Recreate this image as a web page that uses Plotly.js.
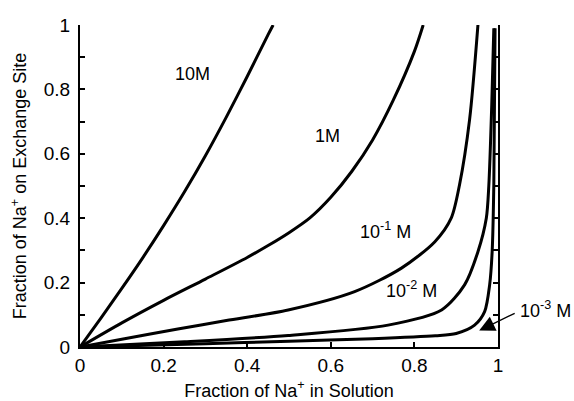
<!DOCTYPE html>
<html>
<head>
<meta charset="utf-8">
<script src="https://cdn.plot.ly/plotly-3.0.1.min.js"></script>
<style>html,body{margin:0;padding:0;background:#fff;}#chart{width:574px;height:401px;}</style>
</head>
<body>
<div id="chart"></div>
<script>
// Curve readings (x = fraction of Na+ in solution, y = fraction on exchange site)
const x10M  = [0, 0.05, 0.1, 0.15, 0.2, 0.25, 0.3, 0.35, 0.4, 0.45, 0.462];
const y10M  = [0, 0.09, 0.182, 0.277, 0.377, 0.482, 0.594, 0.714, 0.84, 0.97, 1.0];

const x1M   = [0, 0.1, 0.2, 0.3, 0.4, 0.45, 0.5, 0.55, 0.6, 0.65, 0.7, 0.75, 0.8, 0.821];
const y1M   = [0, 0.075, 0.145, 0.211, 0.278, 0.315, 0.355, 0.401, 0.465, 0.545, 0.643, 0.768, 0.918, 1.0];

const xE1   = [0, 0.1, 0.234, 0.35, 0.498, 0.657, 0.769, 0.849, 0.888, 0.908, 0.932, 0.952];
const yE1   = [0, 0.024, 0.056, 0.082, 0.115, 0.172, 0.245, 0.327, 0.4, 0.504, 0.706, 1.0];

const xE2   = [0, 0.25, 0.498, 0.737, 0.865, 0.92, 0.952, 0.972, 0.978, 0.985, 0.99];
const yE2   = [0, 0.016, 0.036, 0.068, 0.115, 0.193, 0.296, 0.4, 0.5, 0.75, 0.99];

const xE3   = [0, 0.3, 0.5, 0.7, 0.85, 0.9, 0.944, 0.968, 0.98, 0.986, 0.99, 0.993];
const yE3   = [0, 0.01, 0.018, 0.026, 0.035, 0.042, 0.068, 0.11, 0.193, 0.296, 0.504, 0.99];

const labelText = ["10M", "1M", "10<sup>-1</sup> M", "10<sup>-2</sup> M"];
const labelX    = [0.27, 0.593, 0.731, 0.792];
const labelY    = [0.849, 0.656, 0.361, 0.18];

// label beyond the right edge of the plot (paper coordinates), with an arrow to the 10^-3 M curve
const outerLabel = "10<sup>-3</sup> M";
const outerX = 1.114, outerY = 0.115;
const arrowX = 0.955, arrowY = 0.051;

const tickVals = [0, 0.2, 0.4, 0.6, 0.8, 1];
const tickText = ["0", "0.2", "0.4", "0.6", "0.8", "1"];

const FONT = "Liberation Sans, Arial, sans-serif";
const line = {color: "#000", width: 3, shape: "spline", smoothing: 0.8};
const series = [[x10M, y10M], [x1M, y1M], [xE1, yE1], [xE2, yE2], [xE3, yE3]];
const data = series.map(s => ({x: s[0], y: s[1], type: "scatter", mode: "lines", line: line, hoverinfo: "skip", cliponaxis: false}));

const annotations = labelText.map((t, i) => ({
  x: labelX[i], y: labelY[i], xref: "x", yref: "y", text: t, showarrow: false,
  font: {family: FONT, size: 18, color: "#000"}
}));
annotations.push({
  x: outerX, y: outerY, xref: "paper", yref: "paper", xanchor: "center", yanchor: "middle",
  text: outerLabel, showarrow: false,
  font: {family: FONT, size: 18, color: "#000"}
});
annotations.push({
  x: arrowX, y: arrowY, xref: "x", yref: "y", text: "", showarrow: true,
  ax: 37, ay: -18, arrowhead: 2, arrowsize: 2.4, arrowwidth: 1.3, arrowcolor: "#000",
  standoff: 0
});

const layout = {
  width: 574, height: 401,
  margin: {l: 80, r: 76, t: 25, b: 54},
  paper_bgcolor: "#fff", plot_bgcolor: "#fff",
  showlegend: false,
  font: {family: FONT, color: "#000"},
  xaxis: {
    range: [0, 1], tickvals: tickVals, ticktext: tickText,
    ticks: "inside", ticklen: 5, tickwidth: 2, tickcolor: "#000",
    showline: true, linecolor: "#000", linewidth: 2, mirror: false,
    showgrid: false, zeroline: false,
    tickfont: {family: FONT, size: 19, color: "#000"},
    title: {text: "Fraction of Na<sup>+</sup> in Solution", font: {family: FONT, size: 18, color: "#000"}, standoff: 15},
    automargin: false
  },
  yaxis: {
    range: [0, 1], tickvals: tickVals, ticktext: tickText,
    ticks: "inside", ticklen: 5, tickwidth: 2, tickcolor: "#000",
    ticklabelstandoff: 4,
    minor: {dtick: 0.1, ticks: "inside", ticklen: 5, tickwidth: 2, tickcolor: "#000", showgrid: false},
    showline: true, linecolor: "#000", linewidth: 2, mirror: "ticks",
    showgrid: false, zeroline: false,
    tickfont: {family: FONT, size: 19, color: "#000"},
    title: {text: "Fraction of Na<sup>+</sup> on Exchange Site", font: {family: FONT, size: 18, color: "#000"}, standoff: 12},
    automargin: false
  },
  annotations: annotations
};

Plotly.newPlot("chart", data, layout, {staticPlot: true, displayModeBar: false});
</script>
</body>
</html>
